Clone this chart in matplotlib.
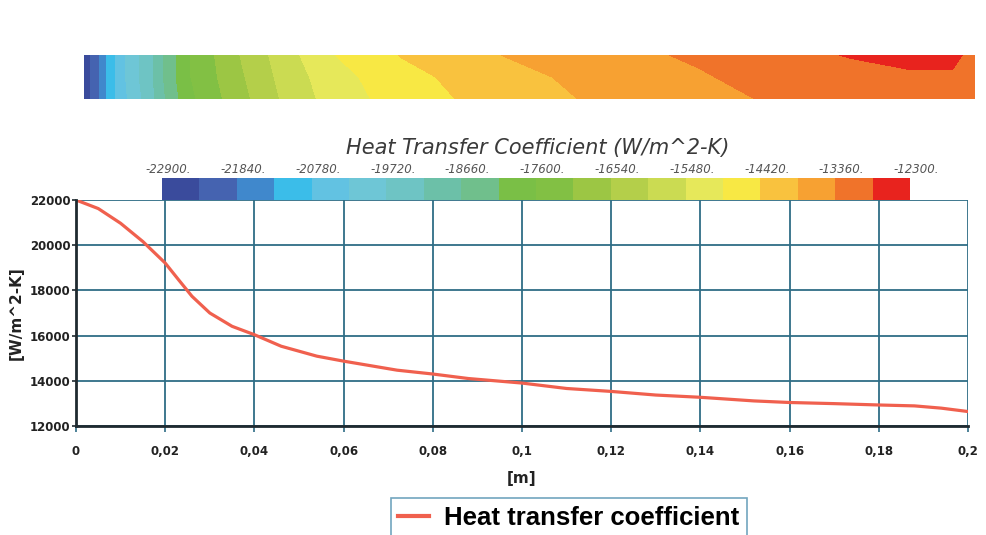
import numpy as np
import matplotlib
matplotlib.use("Agg")
import matplotlib.pyplot as plt
from matplotlib.colors import ListedColormap, BoundaryNorm
from matplotlib.lines import Line2D

# ---------------- data ----------------
x_m = [0, 0.005, 0.010, 0.015, 0.020, 0.023, 0.026, 0.030, 0.035, 0.040, 0.046,
       0.054, 0.060, 0.072, 0.080, 0.088, 0.100, 0.110, 0.120, 0.130, 0.140,
       0.152, 0.160, 0.170, 0.180, 0.188, 0.194, 0.200]
htc = [22000, 21620, 20970, 20160, 19210, 18470, 17740, 17000, 16410, 16040, 15530,
       15090, 14870, 14470, 14300, 14100, 13900, 13660, 13530, 13370, 13270,
       13110, 13040, 12990, 12930, 12890, 12790, 12640]

# contour band along the wall (value = -HTC, as in the legend of the CFD picture)
band_pos = [0, 0.0025, 0.006, 0.010, 0.015, 0.019, 0.024, 0.033, 0.044, 0.055,
            0.071, 0.093, 0.116, 0.138, 0.156, 0.172, 0.185, 0.195, 0.200]
band_top = [22700, 22100, 21000, 20100, 19300, 18400, 17600, 16700, 15800, 15000,
            14400, 13900, 13500, 13300, 13000, 12800, 12700, 12700, 13000]
band_mid = [22700, 22100, 21000, 20100, 19300, 18400, 17600, 16800, 15900, 15200,
            14600, 14100, 13700, 13400, 13200, 13000, 12900, 12900, 13100]
band_bot = [22700, 22100, 21000, 20200, 19400, 18500, 17700, 16900, 16000, 15300,
            14700, 14200, 13800, 13500, 13300, 13200, 13100, 13100, 13200]

cbar_min, cbar_max = -22900, -12300
cbar_ticks = [-22900, -21840, -20780, -19720, -18660, -17600, -16540, -15480,
              -14420, -13360, -12300]
band_colors = ["#3a4b9c", "#4563b0", "#4088cc", "#3bbde9", "#62c2e2", "#6ec6d6",
               "#6ec4c4", "#6cc0a8", "#70bf8c", "#7abf46", "#82c044", "#9cc644",
               "#b4cf4a", "#cbdb52", "#e6e85a", "#f8e844", "#f9c23e", "#f7a132",
               "#f0732a", "#e8231e"]

xticks = [0, 0.02, 0.04, 0.06, 0.08, 0.1, 0.12, 0.14, 0.16, 0.18, 0.2]
xtick_labels = ["0", "0,02", "0,04", "0,06", "0,08", "0,1", "0,12", "0,14", "0,16", "0,18", "0,2"]
yticks = [12000, 14000, 16000, 18000, 20000, 22000]

# ---------------- figure ----------------
W, H = 986, 535
fig = plt.figure(figsize=(W / 100, H / 100), dpi=100)
fig.patch.set_facecolor("white")

def fx(px):
    return px / W

def fy(py):
    return 1 - py / H

cmap = ListedColormap(band_colors)
levels = np.linspace(cbar_min, cbar_max, len(band_colors) + 1)
norm = BoundaryNorm(levels, cmap.N)

# contour band
axb = fig.add_axes([fx(84), fy(99), fx(975) - fx(84), fy(55) - fy(99)])
Xg, Yg = np.meshgrid(band_pos, [0, 1, 2])
Z = -np.array([band_bot, band_mid, band_top], dtype=float)
axb.contourf(Xg, Yg, Z, levels=levels, cmap=cmap, norm=norm, extend="both")
axb.set_xlim(0, 0.2)
axb.set_ylim(0, 2)
axb.axis("off")

# title of colour legend
fig.text(fx(538), fy(148), "Heat Transfer Coefficient (W/m^2-K)", ha="center", va="center",
         fontsize=15, style="italic", color="#3a3a3a", family="DejaVu Sans")

# colour bar
axc = fig.add_axes([fx(162), fy(200), fx(910) - fx(162), fy(178) - fy(200)])
grad = np.array([(levels[:-1] + levels[1:]) / 2])
axc.pcolormesh(levels, [0, 1], grad, cmap=cmap, norm=norm)
axc.set_xlim(cbar_min, cbar_max)
axc.set_ylim(0, 1)
axc.axis("off")
for t in cbar_ticks:
    axc.text(t + 90, 1.08, f"{t}.", ha="center", va="bottom", fontsize=8.5,
             style="italic", color="#555555", transform=axc.transData)

# main plot
ax = fig.add_axes([fx(76), fy(426), fx(968) - fx(76), fy(200) - fy(426)])
ax.set_zorder(-1)
ax.plot(x_m, htc, color="#f0604e", lw=2.3, label="Heat transfer coefficient", zorder=3)
ax.set_xlim(0, 0.2)
ax.set_ylim(12000, 22000)
ax.set_xticks(xticks)
ax.set_xticklabels(xtick_labels)
ax.set_yticks(yticks)
ax.set_yticklabels([str(v) for v in yticks])
ax.grid(True, color="#2f6d86", lw=1.3)
for s in ["top", "right"]:
    ax.spines[s].set_visible(False)
for s in ["left", "bottom"]:
    ax.spines[s].set_color("#1f2a30")
    ax.spines[s].set_linewidth(2)
    ax.spines[s].set_zorder(4)
ax.tick_params(axis="x", length=4, width=1.2, color="#2f6d86", pad=10, labelsize=8.5)
ax.tick_params(axis="y", length=3, width=1.2, color="#1f2a30", pad=1, labelsize=8.5)
for lab in ax.get_xticklabels() + ax.get_yticklabels():
    lab.set_fontweight("bold")
    lab.set_color("#222222")
ax.set_xlabel("[m]", fontsize=11, fontweight="bold", labelpad=9, color="#222222")
ax.set_ylabel("[W/m^2-K]", fontsize=11, fontweight="bold", labelpad=4, color="#222222")

# legend
h = [Line2D([0], [0], color="#f0604e", lw=3)]
leg = fig.legend(h, ["Heat transfer coefficient"], loc="upper center",
                 bbox_to_anchor=(fx(569), fy(498)), frameon=True, fancybox=False,
                 prop={"family": "Liberation Sans", "weight": "bold", "size": 18.5},
                 handlelength=1.2, borderpad=0.3, handletextpad=0.6, borderaxespad=0)
leg.get_frame().set_edgecolor("#4f8fae")
leg.get_frame().set_linewidth(1.2)

fig.savefig("out.png", dpi=100, facecolor="white")
